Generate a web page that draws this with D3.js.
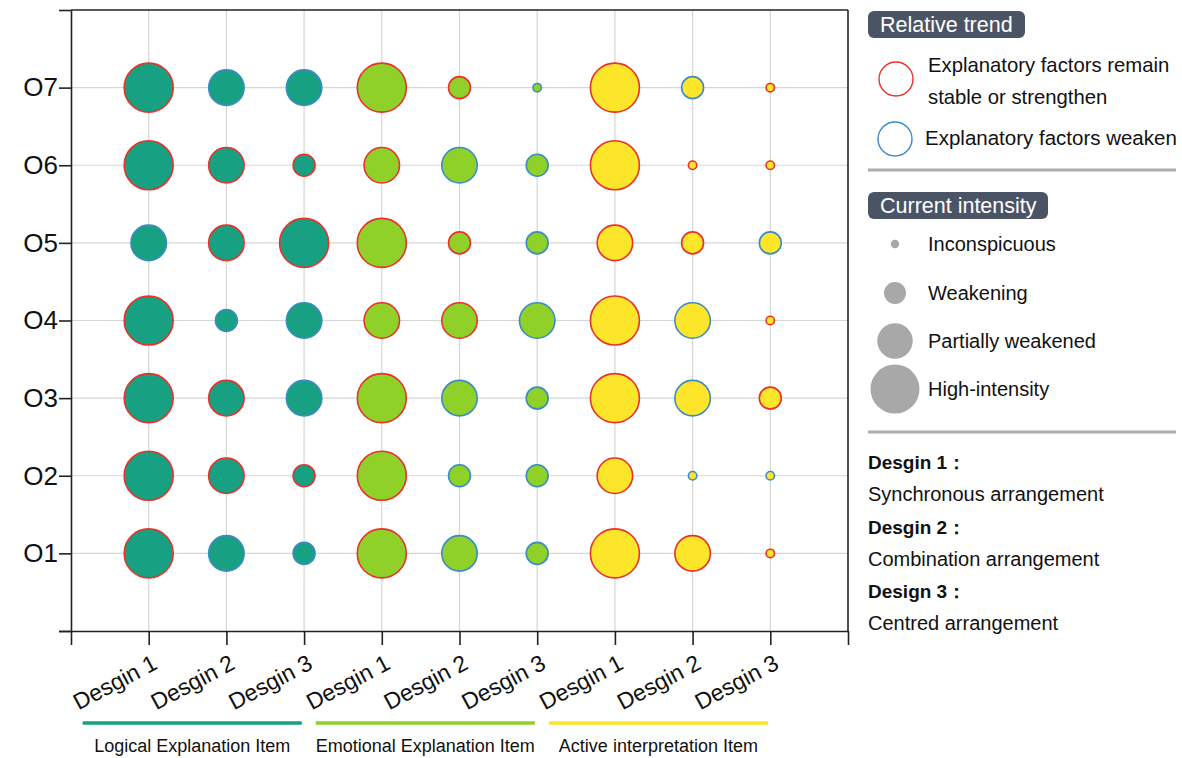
<!DOCTYPE html>
<html>
<head>
<meta charset="utf-8">
<script src="https://cdn.jsdelivr.net/npm/d3@7"></script>
<style>
  html, body { margin: 0; padding: 0; background: #fff; }
  svg { display: block; font-family: "Liberation Sans", Arial, sans-serif; }
</style>
</head>
<body>
<svg id="chart" width="1182" height="758"></svg>
<script>
// Row labels (bottom to top) and column categories
const rows = ["O1", "O2", "O3", "O4", "O5", "O6", "O7"];
const designs = ["Desgin 1", "Desgin 2", "Desgin 3"];
const groups = ["Logical Explanation Item", "Emotional Explanation Item", "Active interpretation Item"];

// Current intensity level per row (1 = inconspicuous ... 4 = high-intensity),
// columns: Logical D1-D3, Emotional D1-D3, Active D1-D3
const intensity = [
  [4, 3, 2, 4, 3, 2, 4, 3, 1], // O1
  [4, 3, 2, 4, 2, 2, 3, 1, 1], // O2
  [4, 3, 3, 4, 3, 2, 4, 3, 2], // O3
  [4, 2, 3, 3, 3, 3, 4, 3, 1], // O4
  [3, 3, 4, 4, 2, 2, 3, 2, 2], // O5
  [4, 3, 2, 3, 3, 2, 4, 1, 1], // O6
  [4, 3, 3, 4, 2, 1, 4, 2, 1]  // O7
];

// Relative trend per row (1 = stable or strengthen, 0 = weaken)
const trend = [
  [1, 0, 0, 1, 0, 0, 1, 1, 1], // O1
  [1, 1, 1, 1, 0, 0, 1, 0, 0], // O2
  [1, 1, 0, 1, 0, 0, 1, 0, 1], // O3
  [1, 0, 0, 1, 1, 0, 1, 0, 1], // O4
  [0, 1, 1, 1, 1, 0, 1, 1, 0], // O5
  [1, 1, 1, 1, 0, 0, 1, 1, 1], // O6
  [1, 0, 0, 1, 1, 0, 1, 0, 1]  // O7
];

const trendLabels = [["Explanatory factors remain", "stable or strengthen"], ["Explanatory factors weaken"]];
const intensityLabels = ["Inconspicuous", "Weakening", "Partially weakened", "High-intensity"];
const designNotes = [
  ["Desgin 1：", "Synchronous arrangement"],
  ["Desgin 2：", "Combination arrangement"],
  ["Design 3：", "Centred arrangement"]
];

const groupFill = ["#17a082", "#8fd128", "#fde62a"];
const trendStroke = { 1: "#e8322a", 0: "#3b8cc6" };

const svg = d3.select("#chart");

const x = d3.scaleLinear().domain([0, 10]).range([71, 848]);
const y = d3.scaleLinear().domain([0, 8]).range([631, 10]);
const r = d3.scaleLinear().domain([1, 4]).range([4.2, 24.5]);

// gridlines
const grid = svg.append("g").attr("stroke", "#d6d6d6").attr("stroke-width", 1.2);
grid.selectAll("line.v").data(d3.range(1, 10)).join("line")
  .attr("x1", d => x(d)).attr("x2", d => x(d)).attr("y1", y(8)).attr("y2", y(0));
grid.selectAll("line.h").data(d3.range(1, 8)).join("line")
  .attr("x1", x(0)).attr("x2", x(10)).attr("y1", d => y(d)).attr("y2", d => y(d));

// frame top / right
svg.append("line").attr("x1", x(0)).attr("x2", x(10)).attr("y1", y(8)).attr("y2", y(8))
  .attr("stroke", "#222").attr("stroke-width", 1.6);
svg.append("line").attr("x1", x(10)).attr("x2", x(10)).attr("y1", y(8)).attr("y2", y(0))
  .attr("stroke", "#222").attr("stroke-width", 1.6);

// y axis
const yAxis = d3.axisLeft(y).tickValues(d3.range(0, 9)).tickSize(12).tickSizeOuter(0).tickPadding(1)
  .tickFormat(d => (d >= 1 && d <= 7) ? rows[d - 1] : "");
const gy = svg.append("g").attr("transform", `translate(${x(0)},0)`).call(yAxis);
gy.selectAll("path, line").attr("stroke", "#222").attr("stroke-width", 1.6);
gy.selectAll("text").attr("font-size", 26).attr("fill", "#111")
  .attr("font-family", "'Liberation Sans', Arial, sans-serif");

// x axis
const colLabels = groups.flatMap(() => designs);
const xAxis = d3.axisBottom(x).tickValues(d3.range(0, 11)).tickSize(14).tickSizeOuter(0)
  .tickFormat(() => "");
const gx = svg.append("g").attr("transform", `translate(0,${y(0)})`).call(xAxis);
gx.selectAll("path, line").attr("stroke", "#222").attr("stroke-width", 1.6);
gx.select("path.domain").attr("d", `M${x(0) - 12},0.5H${x(10)}`);

svg.append("g").selectAll("text").data(colLabels).join("text")
  .attr("transform", (d, i) => `translate(${x(i + 1) + 10},${y(0) + 37}) rotate(-28)`)
  .attr("text-anchor", "end")
  .attr("font-size", 23)
  .attr("fill", "#111")
  .text(d => d);

// group underlines and captions
const gg = svg.append("g");
groups.forEach((g, i) => {
  const x0 = x(i * 3 + 0.15), x1 = x(i * 3 + 2.97);
  gg.append("line").attr("x1", x0).attr("x2", x1).attr("y1", 723).attr("y2", 723)
    .attr("stroke", groupFill[i]).attr("stroke-width", 3.5);
  gg.append("text").attr("x", (x0 + x1) / 2).attr("y", 752)
    .attr("text-anchor", "middle").attr("font-size", 18).attr("fill", "#111")
    .text(g);
});

// bubbles
const cells = [];
intensity.forEach((row, ri) => row.forEach((v, ci) => {
  cells.push({ row: ri + 1, col: ci + 1, level: v, trend: trend[ri][ci], group: Math.floor(ci / 3) });
}));
svg.append("g").selectAll("circle").data(cells).join("circle")
  .attr("cx", d => x(d.col)).attr("cy", d => y(d.row)).attr("r", d => r(d.level))
  .attr("fill", d => groupFill[d.group])
  .attr("stroke", d => trendStroke[d.trend])
  .attr("stroke-width", 1.6);

// legend
const lg = svg.append("g");
function badge(x0, y0, w, label) {
  lg.append("rect").attr("x", x0).attr("y", y0).attr("width", w).attr("height", 27).attr("rx", 6)
    .attr("fill", "#4b5464");
  lg.append("text").attr("x", x0 + 12).attr("y", y0 + 21).attr("font-size", 21.5).attr("fill", "#fff").text(label);
}
badge(868, 11, 157, "Relative trend");

lg.append("circle").attr("cx", 896).attr("cy", 79).attr("r", 17).attr("fill", "none")
  .attr("stroke", trendStroke[1]).attr("stroke-width", 1.4);
trendLabels[0].forEach((t, i) => lg.append("text").attr("x", 928).attr("y", 72 + i * 32)
  .attr("font-size", 20.3).attr("fill", "#111").text(t));
lg.append("circle").attr("cx", 895).attr("cy", 139).attr("r", 17).attr("fill", "none")
  .attr("stroke", trendStroke[0]).attr("stroke-width", 1.4);
lg.append("text").attr("x", 925).attr("y", 145).attr("font-size", 20.5).attr("fill", "#111").text(trendLabels[1][0]);

lg.append("line").attr("x1", 868).attr("x2", 1176).attr("y1", 170).attr("y2", 170)
  .attr("stroke", "#adadad").attr("stroke-width", 3);

badge(868, 192, 180, "Current intensity");
const legendY = [244, 293, 341, 389];
intensityLabels.forEach((t, i) => {
  lg.append("circle").attr("cx", 895).attr("cy", legendY[i]).attr("r", r(i + 1)).attr("fill", "#a8a8a8");
  lg.append("text").attr("x", 928).attr("y", legendY[i] + 7).attr("font-size", 20).attr("fill", "#111").text(t);
});

lg.append("line").attr("x1", 868).attr("x2", 1176).attr("y1", 432).attr("y2", 432)
  .attr("stroke", "#adadad").attr("stroke-width", 3);

designNotes.forEach((pair, i) => {
  lg.append("text").attr("x", 868).attr("y", 469 + i * 64.5).attr("font-size", 19)
    .attr("font-weight", "bold").attr("fill", "#111").text(pair[0]);
  lg.append("text").attr("x", 868).attr("y", 501 + i * 64.5).attr("font-size", 20)
    .attr("fill", "#111").text(pair[1]);
});
</script>
</body>
</html>
